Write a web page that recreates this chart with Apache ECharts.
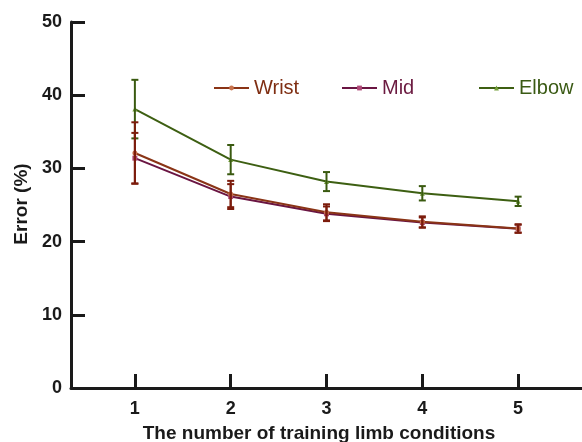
<!DOCTYPE html>
<html>
<head>
<meta charset="utf-8">
<script src="https://cdn.jsdelivr.net/npm/echarts@6/dist/echarts.min.js"></script>
<style>
  html, body { margin: 0; padding: 0; background: #fff; }
  #chart { width: 582px; height: 442px; }
</style>
</head>
<body>
<div id="chart"></div>
<script>
// Training limb conditions (x) and mean error (%) with standard deviations
const conditions = [1, 2, 3, 4, 5];
const wristMean = [32.1, 26.5, 24.0, 22.7, 21.8];
const wristErr  = [4.2, 1.8, 1.1, 0.75, 0.57];
const midMean   = [31.4, 26.15, 23.8, 22.6, 21.75];
const midErr    = [3.45, 1.7, 1.0, 0.7, 0.55];
const elbowMean = [38.1, 31.2, 28.2, 26.6, 25.5];
const elbowErr  = [4.0, 2.0, 1.3, 0.98, 0.64];
const yTicks = [0, 10, 20, 30, 40, 50];

const colors = {
  Wrist: { line: '#8a3416', mark: '#c8744f', bar: '#7c1c0c', text: '#7f2e12' },
  Mid:   { line: '#6a1542', mark: '#b04a78', bar: '#7c1c0c', text: '#6b1a40' },
  Elbow: { line: '#3d5f12', mark: '#74a03a', bar: '#3a5a10', text: '#3a5a14' }
};

const pairs = (xs, ys) => xs.map((x, i) => [x, ys[i]]);
const bars = (xs, m, e) => xs.map((x, i) => [x, m[i] - e[i], m[i] + e[i]]);

function errorBars(name, data, color) {
  return {
    name: name + ' SD',
    type: 'custom',
    data: data,
    z: 5,
    silent: true,
    renderItem: function (params, api) {
      const x = api.value(0);
      const lo = api.coord([x, api.value(1)]);
      const hi = api.coord([x, api.value(2)]);
      const w = 3.5;
      const style = { stroke: color, lineWidth: 2 };
      return {
        type: 'group',
        children: [
          { type: 'line', shape: { x1: lo[0], y1: lo[1], x2: hi[0], y2: hi[1] }, style: style },
          { type: 'line', shape: { x1: lo[0] - w, y1: lo[1], x2: lo[0] + w, y2: lo[1] }, style: style },
          { type: 'line', shape: { x1: hi[0] - w, y1: hi[1], x2: hi[0] + w, y2: hi[1] }, style: style }
        ]
      };
    }
  };
}

function lineSeries(name, data, symbol, z) {
  const c = colors[name];
  return {
    name: name,
    type: 'line',
    data: data,
    z: z,
    symbol: symbol,
    symbolSize: 5,
    showAllSymbol: true,
    lineStyle: { color: c.line, width: 2 },
    itemStyle: { color: c.mark, borderWidth: 0 },
    emphasis: { disabled: true }
  };
}

function legendFor(name, left) {
  return {
    data: [name],
    left: left,
    top: 78,
    padding: 0,
    itemWidth: 35,
    itemHeight: 6,
    itemGap: 8,
    textStyle: { color: colors[name].text, fontSize: 20, fontFamily: 'Liberation Sans, Arial, sans-serif' },
    selectedMode: false
  };
}

const chart = echarts.init(document.getElementById('chart'), null, { renderer: 'canvas' });
chart.setOption({
  animation: false,
  backgroundColor: '#ffffff',
  grid: { left: 71, right: 0, top: 22, bottom: 54, containLabel: false },
  legend: [legendFor('Wrist', 213), legendFor('Mid', 341), legendFor('Elbow', 478)],
  xAxis: {
    type: 'value',
    min: 1 / 3,
    max: 17 / 3,
    splitLine: { show: false },
    axisLine: { show: true, lineStyle: { color: '#1a1a1a', width: 3 } },
    axisTick: { show: true, inside: true, length: 14, lineStyle: { color: '#1a1a1a', width: 3 }, customValues: conditions },
    axisLabel: {
      customValues: conditions,
      margin: 12,
      color: '#1a1a1a',
      fontSize: 18,
      fontWeight: 'bold',
      fontFamily: 'Liberation Sans, Arial, sans-serif'
    }
  },
  yAxis: {
    type: 'value',
    min: 0,
    max: 50,
    interval: 10,
    splitLine: { show: false },
    axisLine: { show: true, lineStyle: { color: '#1a1a1a', width: 3 } },
    axisTick: { show: true, inside: true, length: 14, lineStyle: { color: '#1a1a1a', width: 3 } },
    axisLabel: {
      margin: 9,
      color: '#1a1a1a',
      fontSize: 18,
      fontWeight: 'bold',
      fontFamily: 'Liberation Sans, Arial, sans-serif',
      formatter: v => (yTicks.indexOf(v) >= 0 ? String(v) : '')
    }
  },
  graphic: [
    {
      type: 'text',
      x: 22, y: 204,
      rotation: Math.PI / 2,
      style: {
        text: 'Error (%)',
        fill: '#1a1a1a',
        font: 'bold 19px "Liberation Sans", Arial, sans-serif',
        align: 'center',
        verticalAlign: 'middle'
      }
    },
    {
      type: 'text',
      x: 319, y: 434,
      style: {
        text: 'The number of training limb conditions',
        fill: '#1a1a1a',
        font: 'bold 19px "Liberation Sans", Arial, sans-serif',
        align: 'center',
        verticalAlign: 'middle'
      }
    }
  ],
  series: [
    lineSeries('Elbow', pairs(conditions, elbowMean), 'triangle', 2),
    lineSeries('Mid', pairs(conditions, midMean), 'rect', 3),
    lineSeries('Wrist', pairs(conditions, wristMean), 'circle', 4),
    errorBars('Elbow', bars(conditions, elbowMean, elbowErr), colors.Elbow.bar),
    errorBars('Mid', bars(conditions, midMean, midErr), colors.Mid.bar),
    errorBars('Wrist', bars(conditions, wristMean, wristErr), colors.Wrist.bar)
  ]
});
</script>
</body>
</html>
